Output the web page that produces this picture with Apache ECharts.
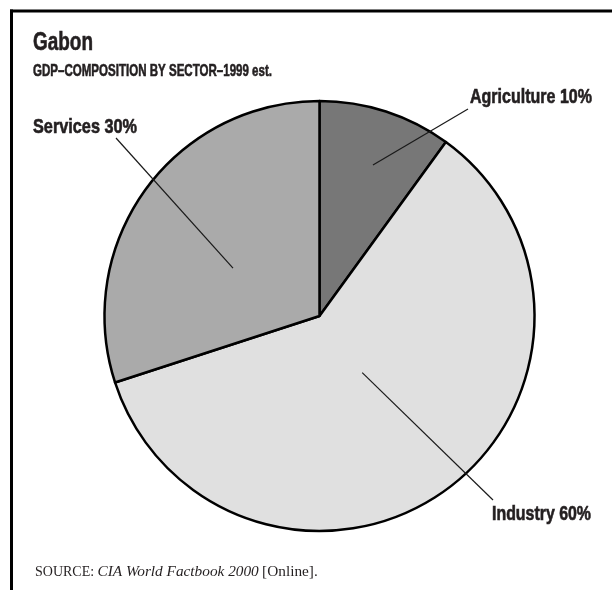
<!DOCTYPE html>
<html>
<head>
<meta charset="utf-8">
<script src="https://cdn.jsdelivr.net/npm/echarts@6/dist/echarts.min.js"></script>
<style>
html,body{margin:0;padding:0;background:#fff;}
#chart{width:612px;height:590px;}
</style>
</head>
<body>
<div id="chart"></div>
<script>
// ---- data ----
var categories = ['Agriculture', 'Industry', 'Services'];
var shares = [10, 60, 30];
var sliceColors = ['#777777', '#e0e0e0', '#aaaaaa'];

// ---- layout (label anchors, leader-line anchors) ----
var pieCenter = [319.5, 316];
var pieRadius = 215;
var labelPos = [[470, 98], [492, 515], [33, 127.5]];       // left / cap-middle of each label
var labelWidth = [122, 99, 104];                          // rendered width of each label
var lineOuter = [[468, 109], [493, 500], [116, 138]];     // leader-line end near label
var lineInner = [[0.745, 19.5], [0.33, 143], [0.46, 299]]; // fraction of radius, angle (deg cw from 12 o'clock)

var SANS = '"Liberation Sans", Arial, sans-serif';
var SERIF = '"Liberation Serif", "Times New Roman", serif';
var INK = '#231f20';

var mctx = document.createElement('canvas').getContext('2d');
function measure(text, font) { mctx.font = font; return mctx.measureText(text).width; }

// condensed bold text: real text, compressed horizontally to the reference width
function condText(text, x, y, size, width) {
  var font = 'bold ' + size + 'px ' + SANS;
  return {
    type: 'text', x: x, y: y, scaleX: width / measure(text, font), silent: true,
    style: {text: text, font: font, fill: INK, stroke: INK, lineWidth: 0.6,
            textAlign: 'left', textVerticalAlign: 'middle'}
  };
}

var chart = echarts.init(document.getElementById('chart'), null, {renderer: 'canvas'});

var data = categories.map(function (c, i) {
  return {name: c, value: shares[i], itemStyle: {color: sliceColors[i]}};
});

var graphics = [
  {type: 'line', silent: true, shape: {x1: 10, y1: 11, x2: 612, y2: 11}, style: {stroke: '#000', lineWidth: 3}},
  {type: 'line', silent: true, shape: {x1: 11.5, y1: 9.5, x2: 11.5, y2: 590}, style: {stroke: '#000', lineWidth: 3}},
  condText('Gabon', 33, 42.5, 26, 60),
  condText('GDP\u2013COMPOSITION BY SECTOR\u20131999 est.', 33, 71, 17, 239),
  {
    type: 'text', x: 35, y: 572, silent: true,
    style: {
      text: '{sc|SOURCE:} {it|CIA World Factbook 2000} {rm|[Online].}',
      textVerticalAlign: 'middle',
      rich: {
        sc: {fontFamily: SERIF, fontSize: 14, fill: INK, fontWeight: 'normal'},
        it: {fontFamily: SERIF, fontStyle: 'italic', fontSize: 15.3, fill: INK, fontWeight: 'normal'},
        rm: {fontFamily: SERIF, fontSize: 15.3, fill: INK, fontWeight: 'normal'}
      }
    }
  }
];

// slice labels and leader lines, text built from the data arrays
categories.forEach(function (c, i) {
  var a = lineInner[i][1] * Math.PI / 180;
  var r = lineInner[i][0] * pieRadius;
  var inner = [pieCenter[0] + r * Math.sin(a), pieCenter[1] - r * Math.cos(a)];
  graphics.push({
    type: 'line', silent: true, z: 10,
    shape: {x1: inner[0], y1: inner[1], x2: lineOuter[i][0], y2: lineOuter[i][1]},
    style: {stroke: '#1a1a1a', lineWidth: 1.2}
  });
  graphics.push(condText(c + ' ' + shares[i] + '%', labelPos[i][0], labelPos[i][1], 19.5, labelWidth[i]));
});

chart.setOption({
  animation: false,
  backgroundColor: '#ffffff',
  graphic: graphics,
  series: [{
    type: 'pie',
    center: pieCenter,
    radius: pieRadius,
    startAngle: 90,
    clockwise: true,
    silent: true,
    data: data,
    itemStyle: {borderColor: '#000', borderWidth: 2.5},
    label: {show: false},
    labelLine: {show: false}
  }]
});
</script>
</body>
</html>
